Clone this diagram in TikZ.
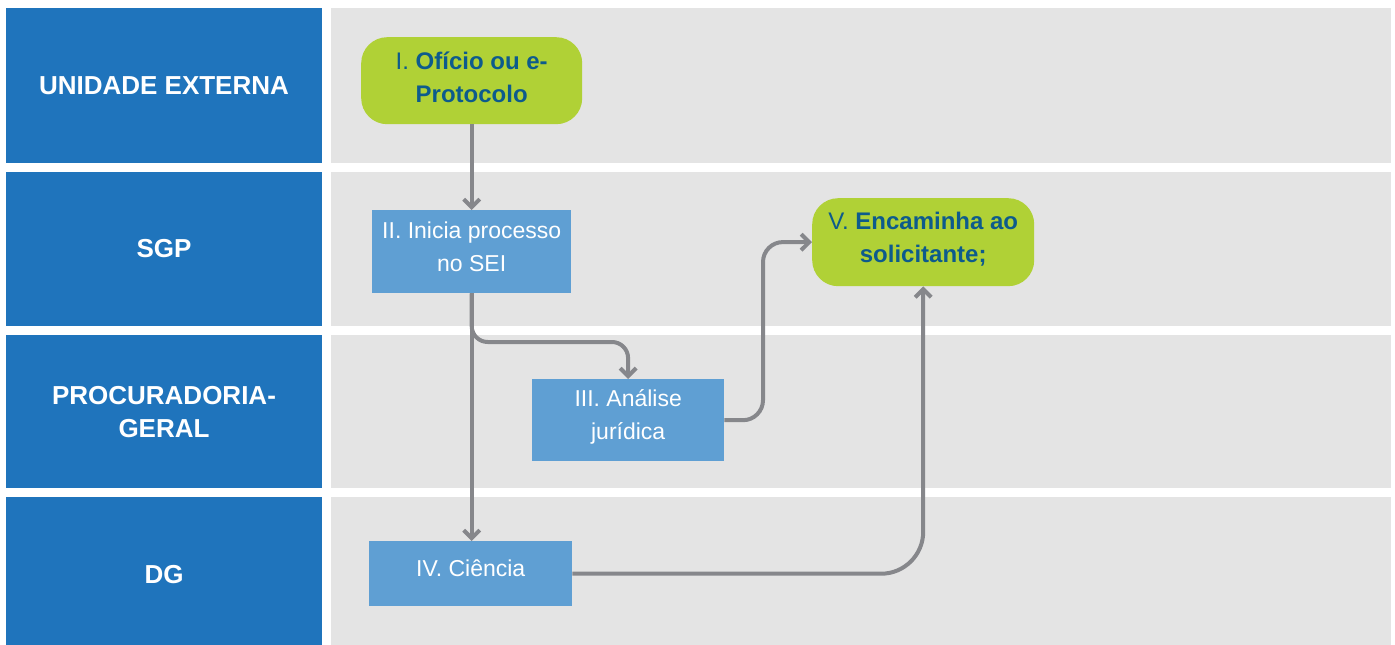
\documentclass[tikz,border=0pt]{standalone}
\usepackage{fontspec}
\setmainfont{Liberation Sans}
\usetikzlibrary{arrows.meta,calc}
\definecolor{lane}{HTML}{1F74BC}
\definecolor{lanebg}{HTML}{E4E4E4}
\definecolor{stepblue}{HTML}{5F9FD3}
\definecolor{stepgreen}{HTML}{B0D136}
\definecolor{conncol}{HTML}{86878B}
\definecolor{darktxt}{HTML}{0D5B8C}
\tikzset{
  lanehead/.style={fill=lane, draw=none},
  lanelabel/.style={text=white, font=\fontsize{26}{33}\selectfont\bfseries, align=center, inner sep=0pt},
  laneband/.style={fill=lanebg, draw=none},
  taskbox/.style={fill=stepblue, draw=none, anchor=north west, inner sep=0pt},
  endbox/.style={fill=stepgreen, draw=none, rounded corners=26pt, anchor=north west, inner sep=0pt},
  tasktext/.style={text=white, font=\fontsize{23}{33}\selectfont, align=center, inner sep=0pt},
  endtext/.style={text=darktxt, font=\fontsize{24}{33}\selectfont, align=center, inner sep=0pt},
  conn/.style={draw=conncol, line width=4pt, -{Straight Barb[length=8pt,width=16pt,line width=4pt]}},
}
\begin{document}
\begin{tikzpicture}[x=1pt,y=-1pt]
\useasboundingbox (0,0) rectangle (1395,645);
\fill[white] (0,0) rectangle (1395,645);
% lane bands
\fill[laneband] (331,8) rectangle (1391,163);
\fill[laneband] (331,172) rectangle (1391,326);
\fill[laneband] (331,335) rectangle (1391,488);
\fill[laneband] (331,497) rectangle (1391,645);
% lane headers
\fill[lanehead] (6,8) rectangle (322,163);
\fill[lanehead] (6,172) rectangle (322,326);
\fill[lanehead] (6,335) rectangle (322,488);
\fill[lanehead] (6,497) rectangle (322,645);
\node[lanelabel] (h1) at (164,85.5) {UNIDADE EXTERNA};
\node[lanelabel] (h2) at (164,249) {SGP};
\node[lanelabel] (h3) at (164,412) {PROCURADORIA-\\GERAL};
\node[lanelabel] (h4) at (164,575) {DG};
% steps
\node[endbox, minimum width=221pt, minimum height=87pt] (I) at (361,37) {};
\node[endtext] (Itxt) at ($(I.center)+(0,-3)$) {I. \textbf{Ofício ou e-}\\\textbf{Protocolo}};
\node[taskbox, minimum width=199pt, minimum height=83pt] (II) at (372,210) {};
\node[tasktext] (IItxt) at ($(II.center)+(0,-5)$) {II. Inicia processo\\no SEI};
\node[taskbox, minimum width=192pt, minimum height=82pt] (III) at (532,379) {};
\node[tasktext] (IIItxt) at ($(III.center)+(0,-3)$) {III. Análise\\jurídica};
\node[taskbox, minimum width=203pt, minimum height=65pt] (IV) at (369,541) {};
\node[tasktext] (IVtxt) at ($(IV.center)+(0,-5)$) {IV. Ciência};
\node[endbox, minimum width=222pt, minimum height=88pt] (V) at (812,198) {};
\node[endtext] (Vtxt) at ($(V.center)+(0,-3)$) {V. \textbf{Encaminha ao}\\\textbf{solicitante;}};
% connectors
\coordinate (b1) at (628,342);
\coordinate (b2) at (763,242);
\draw[conn] (I.south) -- (I.south |- II.north);
\draw[conn] (II.south) -- (II.south |- IV.north);
\draw[conn, rounded corners=16pt] (II.south) |- (b1) -- (III.north);
\draw[conn, rounded corners=20pt] (III.east) -| (b2) -- (V.west);
\draw[conn, rounded corners=42pt] (IV.east) -| (V.south);
\end{tikzpicture}
\end{document}
